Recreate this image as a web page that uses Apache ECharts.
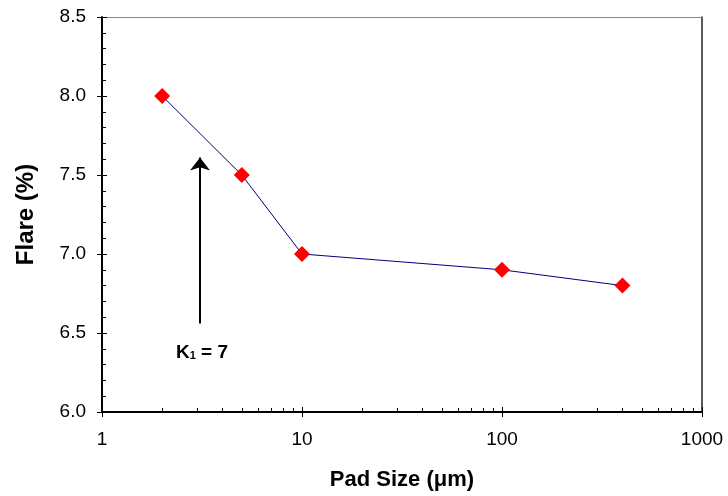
<!DOCTYPE html>
<html><head><meta charset="utf-8">
<script src="https://cdn.jsdelivr.net/npm/echarts@6/dist/echarts.min.js"></script>
<style>html,body{margin:0;padding:0;background:#fff}#c{width:728px;height:496px}</style>
</head><body><div id="c"></div>
<script>
// data
const padSize = [2, 5, 10, 100, 400];
const flare = [8.0, 7.5, 7.0, 6.9, 6.8];
// axis ticks
const xMajor = [1, 10, 100, 1000];
const xMinor = [2,3,4,5,6,7,8,9,20,30,40,50,60,70,80,90,200,300,400,500,600,700,800,900];
const yMin = 6.0, yMax = 8.5, yMajorStep = 0.5, yMinorStep = 0.1;
// annotation
const arrowX = 3.09, arrowFrom = 6.56, arrowTo = 7.61;
const noteX = 3.16, noteY = 6.38;
const noteText = ['K', '1', ' = 7'];

const FONT = '"Liberation Sans", Arial, sans-serif';
const chart = echarts.init(document.getElementById('c'), null, {renderer: 'canvas'});

const xTickData = xMinor.map(v => [v, yMin, 4]).concat(xMajor.map(v => [v, yMin, 5]));

function hiddenY(interval, len) {
  return {
    type: 'value', min: yMin, max: yMax, interval: interval, position: 'left',
    axisLine: {show: false}, axisLabel: {show: false}, splitLine: {show: false},
    axisTick: {show: true, inside: true, length: len, lineStyle: {color: '#000', width: 1}}
  };
}

chart.setOption({
  backgroundColor: '#fff',
  animation: false,
  grid: {left: 102, right: 26, top: 17, bottom: 84, containLabel: false, outerBoundsMode: 'none'},
  xAxis: [{
    type: 'log', logBase: 10, min: 1, max: 1000, splitNumber: 3,
    name: 'Pad Size (\u03bcm)', nameLocation: 'middle', nameGap: 57,
    nameTextStyle: {fontFamily: FONT, fontSize: 22, fontWeight: 'bold', color: '#000'},
    axisLine: {show: true, onZero: false, lineStyle: {color: '#000', width: 2}},
    axisTick: {show: true, length: 5, lineStyle: {color: '#000', width: 1}},
    axisLabel: {fontFamily: FONT, fontSize: 19, color: '#000', margin: 18, formatter: v => String(v)},
    splitLine: {show: false}
  }, {
    type: 'log', logBase: 10, min: 1, max: 1000, position: 'top',
    axisLine: {show: true, lineStyle: {color: '#888', width: 1}},
    axisTick: {show: false}, axisLabel: {show: false}, splitLine: {show: false}
  }],
  yAxis: [{
    type: 'value', min: yMin, max: yMax, interval: yMajorStep,
    name: 'Flare (%)', nameLocation: 'middle', nameGap: 64,
    nameTextStyle: {fontFamily: FONT, fontSize: 24, fontWeight: 'bold', color: '#000'},
    axisLine: {show: true, onZero: false, lineStyle: {color: '#000', width: 2}},
    axisTick: {show: true, length: 5, lineStyle: {color: '#000', width: 1}},
    axisLabel: {fontFamily: FONT, fontSize: 19, color: '#000', margin: 16, formatter: v => v.toFixed(1)},
    splitLine: {show: false}
  }, {
    type: 'value', min: yMin, max: yMax, interval: yMajorStep, position: 'right',
    axisLine: {show: true, lineStyle: {color: '#222', width: 1.5}},
    axisTick: {show: false}, axisLabel: {show: false}, splitLine: {show: false}
  },
  hiddenY(yMinorStep, 4),
  hiddenY(yMajorStep, 5)
  ],
  series: [
    {
      type: 'line', data: padSize.map((x, i) => [x, flare[i]]),
      symbol: 'diamond', symbolSize: 16,
      itemStyle: {color: '#ff0000'},
      lineStyle: {color: '#000080', width: 1},
      z: 10,
      markLine: {
        silent: true, animation: false,
        symbol: ['none', 'arrow'], symbolSize: [15, 13],
        lineStyle: {color: '#000', width: 2, type: 'solid'},
        label: {show: false},
        data: [[{coord: [arrowX, arrowFrom]}, {coord: [arrowX, arrowTo]}]]
      },
      markPoint: {
        silent: true, animation: false,
        symbol: 'circle', symbolSize: 0,
        data: [{coord: [noteX, noteY]}],
        label: {
          show: true, position: 'inside',
          formatter: '{b|' + noteText[0] + '}{s|' + noteText[1] + '}{b|' + noteText[2] + '}',
          rich: {
            b: {fontFamily: FONT, fontSize: 19, fontWeight: 'bold', color: '#000', lineHeight: 20, verticalAlign: 'bottom'},
            s: {fontFamily: FONT, fontSize: 11, fontWeight: 'bold', color: '#000', lineHeight: 10, verticalAlign: 'bottom'}
          }
        }
      }
    },
    {
      type: 'custom', coordinateSystem: 'cartesian2d', silent: true, animation: false, clip: false, z: 5,
      data: xTickData,
      renderItem: function (params, api) {
        const p = api.coord([api.value(0), api.value(1)]);
        const x = Math.round(p[0]) + 0.5;
        return {type: 'line', shape: {x1: x, y1: p[1], x2: x, y2: p[1] - api.value(2)}, style: {stroke: '#000', lineWidth: 1}};
      }
    }
  ]
});
</script></body></html>
